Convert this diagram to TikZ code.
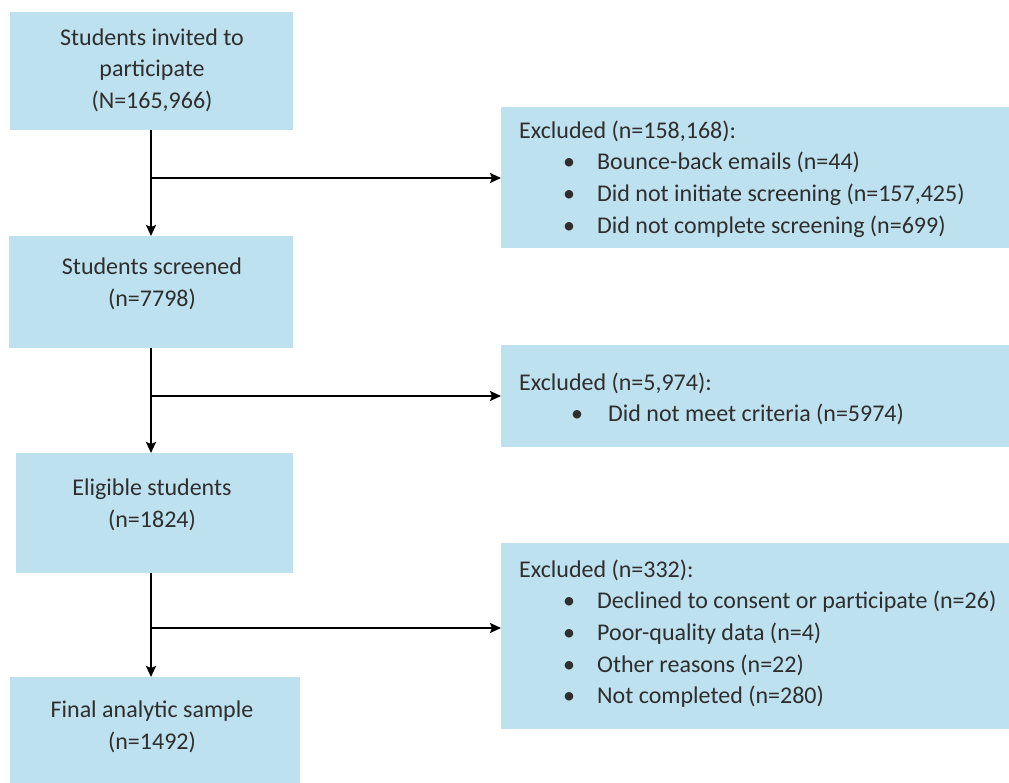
\documentclass[tikz,border=0pt]{standalone}
\usepackage{fontspec}
\setmainfont{Carlito}
\usetikzlibrary{arrows.meta}
\definecolor{boxblue}{HTML}{BEE1EF}
\definecolor{ink}{HTML}{2E2E2E}
\tikzset{
  box/.style={fill=boxblue, draw=none, anchor=north west, inner sep=0pt},
  ctext/.style={text=ink, align=center, font=\fontsize{24}{31.6}\selectfont, inner sep=0pt},
  ltext/.style={text=ink, align=left, anchor=north west, font=\fontsize{24}{31.6}\selectfont, inner sep=0pt},
  flow/.style={line width=1.9pt, -{Stealth[length=11pt,width=10pt,inset=2pt]}}
}
% bullet item: indent to the bullet, then indent to the text
\newcommand{\bitem}[3]{\makebox[#1][l]{}\makebox[#2][l]{\textbullet}#3}
\begin{document}
\begin{tikzpicture}[x=1pt,y=-1pt]
\useasboundingbox (0,0) rectangle (1009,783);

% main stages
\node[box, minimum width=283pt, minimum height=118pt] (b1) at (10,12) {};
\node[box, minimum width=284pt, minimum height=112pt] (b2) at (9,236) {};
\node[box, minimum width=277pt, minimum height=120pt] (b3) at (16,453) {};
\node[box, minimum width=290pt, minimum height=106pt] (b4) at (10,677) {};

\node[ctext] (t1) at (152,70) {Students invited to\\participate\\(N=165,966)};
\node[ctext] (t2) at (152,284) {Students screened\\(n=7798)};
\node[ctext] (t3) at (152,505) {Eligible students\\(n=1824)};
\node[ctext] (t4) at (152,727) {Final analytic sample\\(n=1492)};

% exclusion boxes
\node[box, minimum width=508pt, minimum height=141pt] (r1) at (501,107) {};
\node[box, minimum width=508pt, minimum height=102pt] (r2) at (501,345) {};
\node[box, minimum width=508pt, minimum height=186pt] (r3) at (501,543) {};

\node[ltext] (e1) at (519,120.5) {Excluded (n=158,168):\\
  \bitem{44pt}{34pt}{Bounce-back emails (n=44)}\\
  \bitem{44pt}{34pt}{Did not initiate screening (n=157,425)}\\
  \bitem{44pt}{34pt}{Did not complete screening (n=699)}};
\node[ltext] (e2) at (519,372.5) {Excluded (n=5,974):\\
  \bitem{52pt}{37pt}{Did not meet criteria (n=5974)}};
\node[ltext] (e3) at (519,559.5) {Excluded (n=332):\\
  \bitem{44pt}{34pt}{Declined to consent or participate (n=26)}\\
  \bitem{44pt}{34pt}{Poor-quality data (n=4)}\\
  \bitem{44pt}{34pt}{Other reasons (n=22)}\\
  \bitem{44pt}{34pt}{Not completed (n=280)}};

% branch points on the main line
\coordinate (j1) at (151,178);
\coordinate (j2) at (151,396);
\coordinate (j3) at (151,628);

% main flow
\draw[flow] (j1 |- b1.south) -- (j1 |- b2.north);
\draw[flow] (j2 |- b2.south) -- (j2 |- b3.north);
\draw[flow] (j3 |- b3.south) -- (j3 |- b4.north);

% exclusions
\draw[flow] (j1) -- (j1 -| r1.west);
\draw[flow] (j2) -- (j2 -| r2.west);
\draw[flow] (j3) -- (j3 -| r3.west);
\end{tikzpicture}
\end{document}
